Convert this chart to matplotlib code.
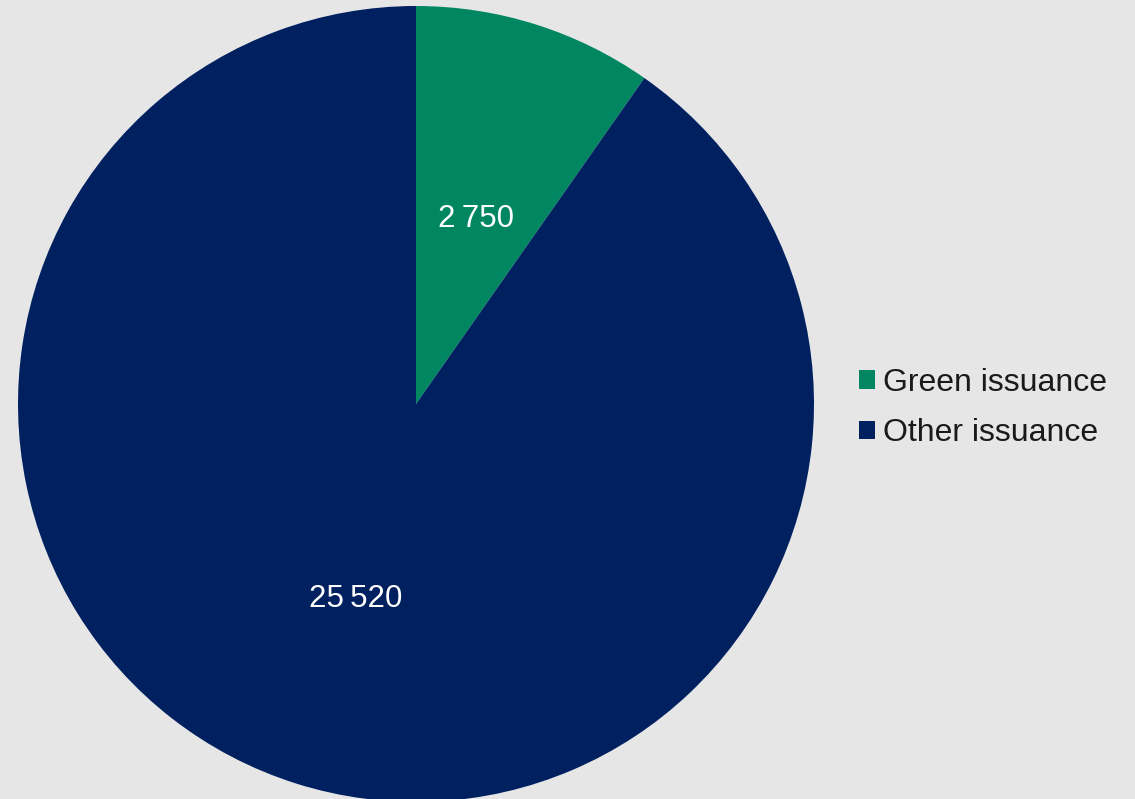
import matplotlib.pyplot as plt
from matplotlib.patches import Patch
from matplotlib.transforms import offset_copy

# issuance split
labels = ['Green issuance', 'Other issuance']
values = [2750, 25520]
colors = ['#008761', '#002060']

plt.rcParams['font.family'] = ['Liberation Sans', 'DejaVu Sans']

fig = plt.figure(figsize=(11.35, 7.99), dpi=100)
fig.patch.set_facecolor('#e6e6e6')

# pie centred at (416, 404) px with radius 398 px
ax = fig.add_axes([18 / 1135, -3 / 799, 796 / 1135, 796 / 799])
ax.set_facecolor('#e6e6e6')

def fmt(pct):
    v = int(round(pct * sum(values) / 100.0))
    return f'{v:,}'.replace(',', '\u2009')

wedges, texts, autotexts = ax.pie(values, colors=colors, startangle=90,
                                  counterclock=False, autopct=fmt,
                                  pctdistance=0.5, radius=1.0,
                                  wedgeprops=dict(linewidth=0))
# nudge value labels down a little
shifted = offset_copy(ax.transData, fig=fig, x=0, y=-5, units='dots')
for t in autotexts:
    t.set_color('white')
    t.set_fontsize(22.5)
    t.set_transform(shifted)
ax.set_xlim(-1, 1)
ax.set_ylim(-1, 1)
ax.set_aspect('equal')
ax.axis('off')

handles = [Patch(facecolor=c, edgecolor='none') for c in colors]
leg = fig.legend(handles, labels, loc='center left',
                 bbox_to_anchor=(859 / 1135, 1 - 408 / 799),
                 frameon=False, fontsize=23, handlelength=0.5,
                 handleheight=0.5, handletextpad=0.25, labelspacing=0.64,
                 borderpad=0, borderaxespad=0)
for t in leg.get_texts():
    t.set_color('#1a1a1a')

fig.savefig('out.png', dpi=100, facecolor=fig.get_facecolor())
